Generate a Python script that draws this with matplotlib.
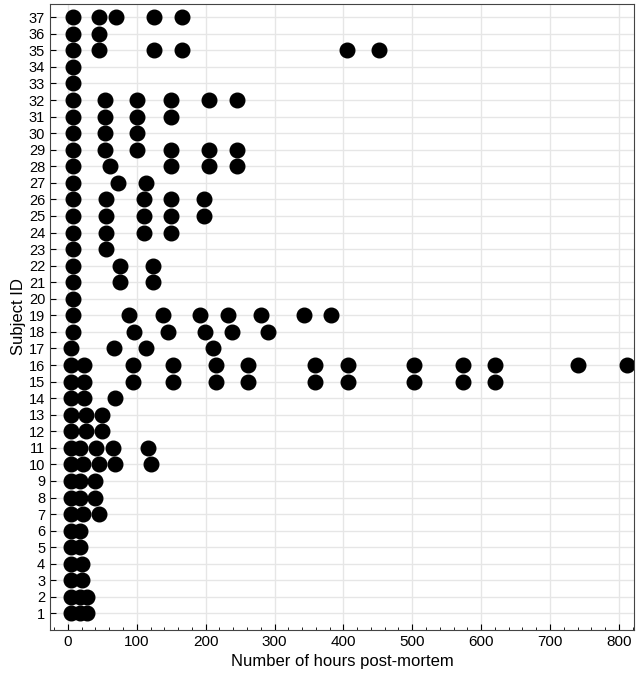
import matplotlib
matplotlib.use('Agg')
import matplotlib.pyplot as plt
from matplotlib.ticker import MultipleLocator

plt.rcParams['font.family'] = ['Liberation Sans', 'DejaVu Sans']

# hours post-mortem for each subject ID
hours = {
    1: [5, 17, 27],
    2: [5, 17, 27],
    3: [5, 20],
    4: [5, 20],
    5: [5, 17],
    6: [5, 17],
    7: [5, 22, 45],
    8: [5, 17, 40],
    9: [5, 17, 40],
    10: [5, 22, 45, 69, 121],
    11: [5, 17, 41, 65, 117],
    12: [5, 26, 49],
    13: [5, 26, 49],
    14: [5, 23, 69],
    15: [5, 23, 95, 153, 215, 262, 359, 406, 502, 573, 620],
    16: [5, 23, 95, 153, 215, 262, 359, 406, 502, 573, 620, 740, 812],
    17: [5, 67, 114, 210],
    18: [7, 96, 145, 199, 238, 290],
    19: [7, 89, 138, 192, 232, 281, 343, 382],
    20: [7],
    21: [7, 75, 124],
    22: [7, 75, 124],
    23: [7, 56],
    24: [7, 56, 110, 150],
    25: [7, 56, 110, 150, 198],
    26: [7, 56, 110, 150, 198],
    27: [7, 73, 113],
    28: [7, 61, 150, 205, 245],
    29: [7, 54, 101, 150, 205, 245],
    30: [7, 54, 101],
    31: [7, 54, 101, 150],
    32: [7, 54, 101, 150, 205, 245],
    33: [7],
    34: [7],
    35: [7, 45, 125, 165, 405, 452],
    36: [7, 45],
    37: [7, 45, 70, 125, 165],
}

xs, ys = [], []
for sid, vals in hours.items():
    for v in vals:
        xs.append(v)
        ys.append(sid)

fig = plt.figure(figsize=(6.4, 6.85), dpi=100)
ax = fig.add_axes([50 / 640, 55 / 685, 584 / 640, 626 / 685])
ax.plot(xs, ys, 'o', color='black', markersize=10.5, linestyle='none')

ax.set_xlim(-26, 822)
ax.set_ylim(0, 37.8)
ax.set_yticks(range(1, 38))
ax.set_xticks(range(0, 801, 100))
ax.xaxis.set_minor_locator(MultipleLocator(20))
ax.tick_params(direction='in', labelsize=11, length=4)
ax.tick_params(which='minor', direction='in', length=2)
ax.tick_params(axis='y', labelsize=10.5)
ax.grid(True, color='#e6e6e6', linewidth=1)
ax.set_axisbelow(True)
for s in ax.spines.values():
    s.set_color('#444444')
ax.set_xlabel('Number of hours post-mortem', fontsize=12)
ax.set_ylabel('Subject ID', fontsize=12, labelpad=2)

fig.savefig('out.png', dpi=100)
